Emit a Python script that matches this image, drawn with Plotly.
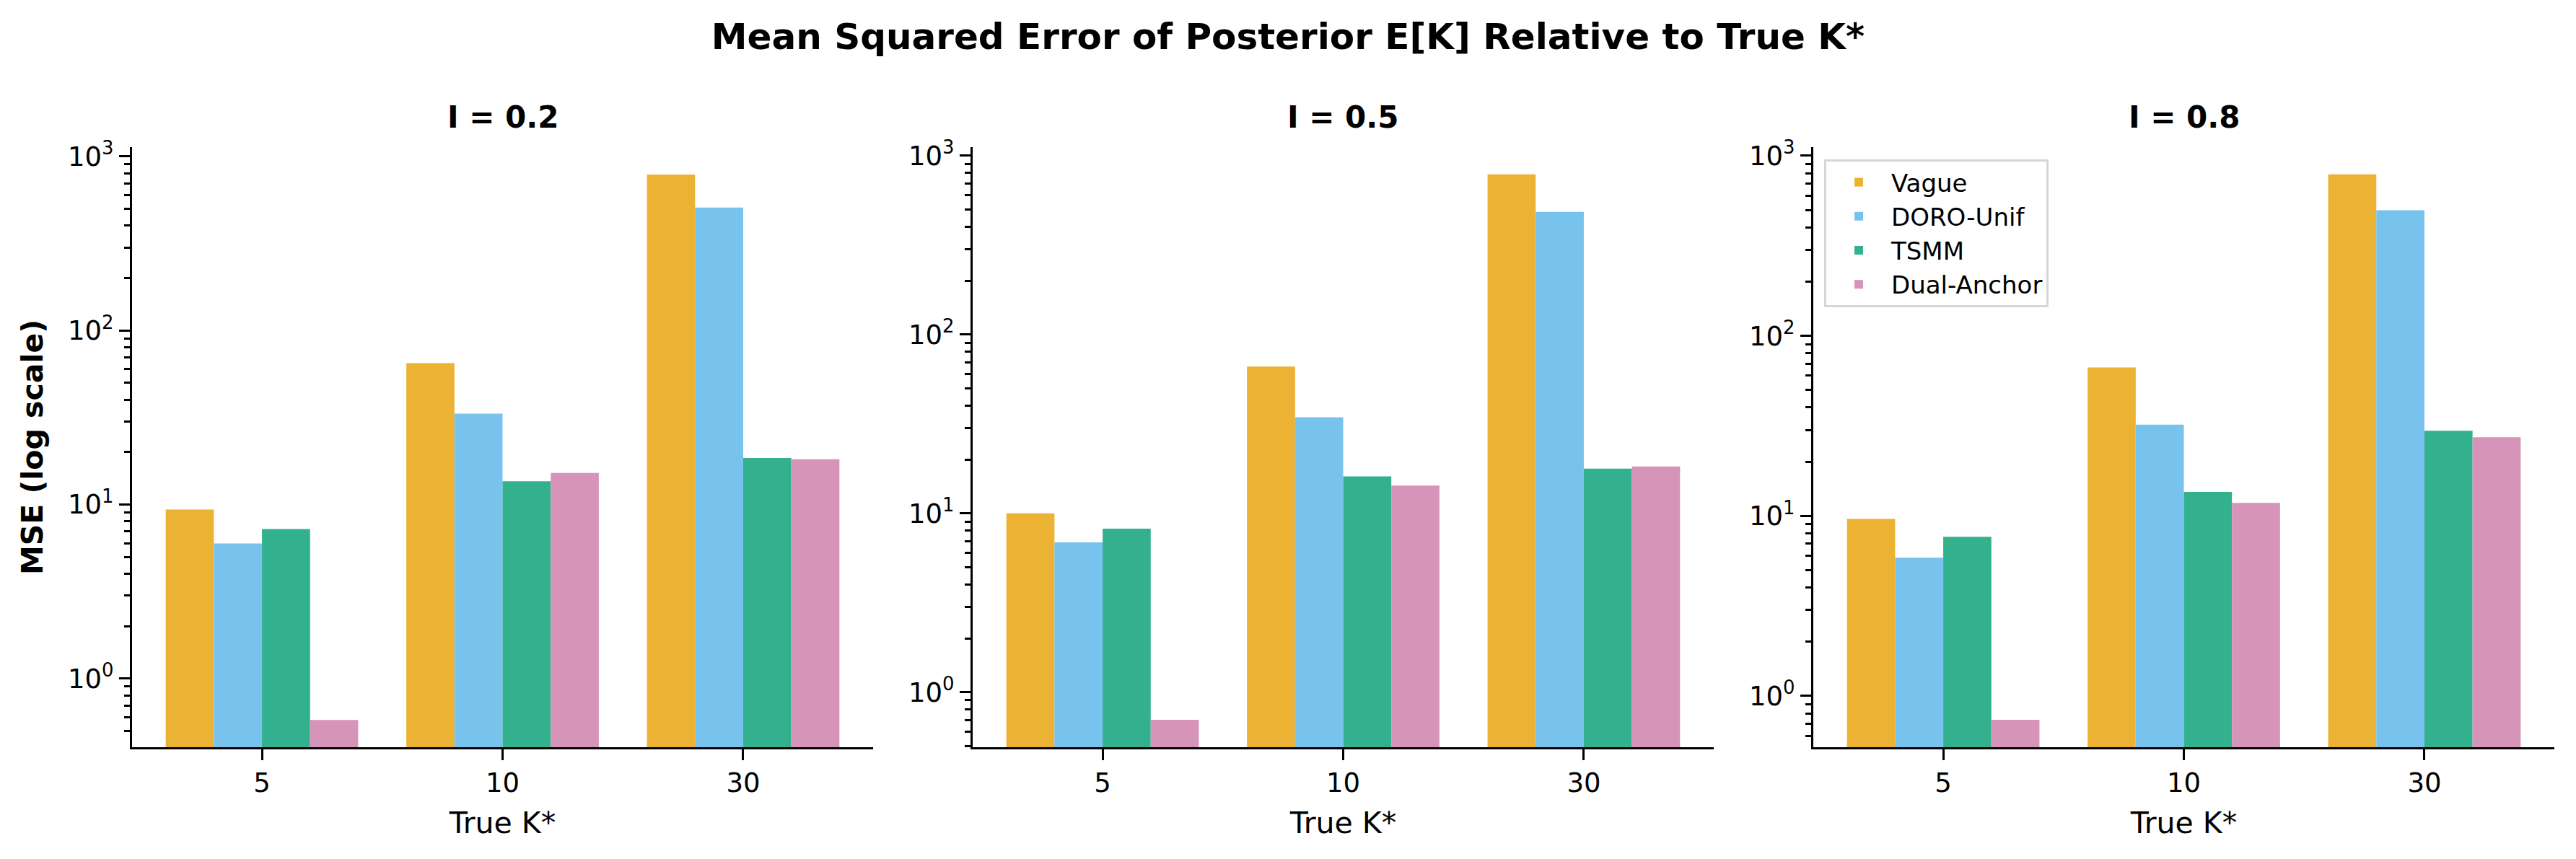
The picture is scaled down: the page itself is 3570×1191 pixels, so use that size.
import plotly.graph_objects as go

K_LABELS = ["5", "10", "30"]
PANELS = ["I = 0.2", "I = 0.5", "I = 0.8"]
METHODS = ["Vague", "DORO-Unif", "TSMM", "Dual-Anchor"]
COLORS = ["#EBB233", "#78C3ED", "#33B18F", "#D694B9"]

# MSE per panel, per method, over K* = 5, 10, 30
mse_i02 = {
    "Vague": [9.36, 64.9, 786],
    "DORO-Unif": [5.98, 33.3, 508],
    "TSMM": [7.24, 13.6, 18.5],
    "Dual-Anchor": [0.579, 15.2, 18.2],
}
mse_i05 = {
    "Vague": [10.0, 66.2, 787],
    "DORO-Unif": [6.88, 34.5, 485],
    "TSMM": [8.20, 16.1, 17.8],
    "Dual-Anchor": [0.70, 14.3, 18.3],
}
mse_i08 = {
    "Vague": [9.62, 66.7, 788],
    "DORO-Unif": [5.85, 32.1, 498],
    "TSMM": [7.66, 13.6, 29.7],
    "Dual-Anchor": [0.736, 11.8, 27.3],
}
DATA = [mse_i02, mse_i05, mse_i08]
Y_RANGES = [[-0.394, 3.053], [-0.308, 3.048], [-0.285, 3.048]]

W, H = 3570, 1191
FONT = "DejaVu Sans"
x_domains = [[183 / W, 1210 / W], [1348 / W, 2375 / W], [2513 / W, 3540 / W]]
y_domain = [1 - 1036 / H, 1 - 204 / H]

major = [1, 10, 100, 1000]
major_txt = ["10<sup>0</sup>", "10<sup>1</sup>", "10<sup>2</sup>", "10<sup>3</sup>"]
minor = [m * 10 ** e for e in range(-1, 4) for m in range(2, 10)]

fig = go.Figure()
layout = {}
for p, data in enumerate(DATA):
    sfx = "" if p == 0 else str(p + 1)
    for m, col in zip(METHODS, COLORS):
        fig.add_trace(go.Bar(
            x=K_LABELS, y=data[m], name=m, marker_color=col,
            marker_line_width=0, showlegend=(p == 2), legendgroup=m,
            xaxis="x" + sfx, yaxis="y" + sfx,
        ))
    layout["xaxis" + sfx] = dict(
        domain=x_domains[p], anchor="y" + sfx, type="category", automargin=False,
        range=[-0.54, 2.54], showline=True, linecolor="black", linewidth=3,
        ticks="outside", ticklen=15, tickwidth=3, tickcolor="black",
        tickfont=dict(size=37, color="black"), showgrid=False, zeroline=False,
        title=dict(text="True K*", font=dict(size=41, color="black"), standoff=20),
    )
    layout["yaxis" + sfx] = dict(
        domain=y_domain, anchor="x" + sfx, type="log", range=Y_RANGES[p],
        automargin=False, showline=True, linecolor="black", linewidth=3,
        tickmode="array", tickvals=major, ticktext=major_txt,
        ticks="outside", ticklen=15, tickwidth=3, tickcolor="black",
        tickfont=dict(size=37, color="black"), showgrid=False, zeroline=False,
        minor=dict(tickmode="array", tickvals=minor, ticks="outside",
                   ticklen=8, tickwidth=2.5, tickcolor="black", showgrid=False),
    )

layout["yaxis"]["title"] = dict(text="<b>MSE (log scale)</b>",
                                font=dict(size=41, color="black"), standoff=22)

annotations = []
for p, name in enumerate(PANELS):
    annotations.append(dict(
        text="<b>" + name + "</b>", x=sum(x_domains[p]) / 2, y=1 - 162 / H,
        xref="paper", yref="paper", xanchor="center", yanchor="middle",
        showarrow=False, font=dict(size=42, color="black", family=FONT),
    ))

fig.update_layout(
    **layout,
    annotations=annotations,
    title=dict(text="<b>Mean Squared Error of Posterior E[K] Relative to True K*</b>",
               x=0.5, xanchor="center", y=1 - 50 / H, yanchor="middle",
               font=dict(size=50, color="black", family=FONT)),
    width=W, height=H,
    margin=dict(l=0, r=0, t=0, b=0, autoexpand=False),
    barmode="group", bargap=0.2, bargroupgap=0,
    plot_bgcolor="white", paper_bgcolor="white",
    font=dict(family=FONT, color="black"),
    legend=dict(x=2528 / W, y=1 - 221 / H, xanchor="left", yanchor="top",
                bgcolor="white", bordercolor="#D6D6D6", borderwidth=3,
                font=dict(size=34, color="black"), traceorder="normal",
                tracegroupgap=6, itemwidth=80),
)

# drop the browser's default body margin so the figure sits at the page corner
fig.write_html("out.html", config={"displayModeBar": False},
               post_script="document.body.style.margin='0';")
